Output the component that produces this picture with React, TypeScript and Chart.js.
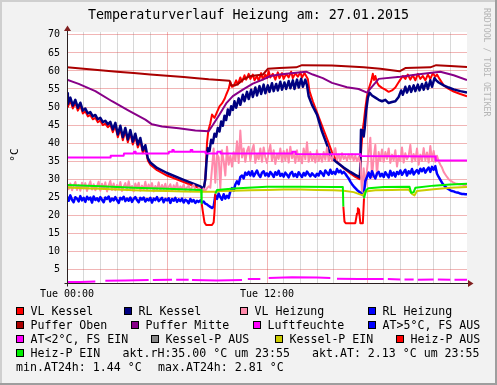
import React, { useEffect, useRef } from "react";
import { Chart, registerables } from "chart.js";

Chart.register(...registerables);

// ---------------- texts / axes ----------------
const TITLE = "Temperaturverlauf Heizung am: 27.01.2015";
const Y_UNIT = "°C";
const WATERMARK = "RRDTOOL / TOBI OETIKER";
const X_MIN = 0;
const X_MAX = 24;
const X_TICK_LABELS: Record<number, string> = { 0: "Tue 00:00", 12: "Tue 12:00" };
const Y_MIN = 1.2;
const Y_MAX = 70.8;
const Y_STEP = 5;

// ---------------- data (hour of day, °C) ----------------
type Pair = [number, number | null];

const VL_KESSEL: Pair[] = [
  [0.0, 52.8], [0.05, 50.0], [0.2, 51.8], [0.35, 49.6], [0.5, 51.2], [0.65, 49.0], [0.8, 50.4], [0.95, 48.2],
  [1.1, 48.8], [1.25, 47.4], [1.4, 47.8], [1.55, 46.6], [1.7, 47.0], [1.85, 45.8], [2.0, 46.2], [2.15, 45.0],
  [2.3, 45.4], [2.45, 44.4], [2.6, 45.1], [2.75, 43.0], [2.9, 44.8], [3.05, 41.6], [3.2, 44.0], [3.35, 40.8],
  [3.5, 43.4], [3.65, 40.2], [3.8, 42.8], [3.95, 39.6], [4.1, 41.8], [4.25, 38.8], [4.4, 40.6], [4.55, 37.2],
  [4.7, 38.6], [4.85, 35.2], [5.0, 34.0], [5.4, 32.5], [6.0, 31.0], [7.0, 29.2], [8.0, 27.4], [8.2, 26.8],
  [8.3, 30.0], [8.4, 40.0], [8.48, 43.5], [8.6, 45.5], [8.7, 47.9], [8.85, 47.0], [9.0, 48.6], [9.15, 50.2],
  [9.3, 51.0], [9.45, 52.2], [9.55, 53.4], [9.7, 55.0], [9.8, 57.0], [9.9, 55.6], [10.0, 55.8], [10.15, 57.4],
  [10.25, 56.2], [10.4, 58.2], [10.5, 57.0], [10.65, 58.8], [10.75, 57.6], [10.9, 59.2], [11.0, 57.8], [11.15, 59.0],
  [11.25, 57.4], [11.4, 58.6], [11.5, 57.2], [11.65, 59.4], [11.75, 57.6], [11.9, 59.0], [12.0, 58.0], [12.1, 60.0],
  [12.2, 58.2], [12.35, 59.2], [12.5, 57.6], [12.65, 59.6], [12.75, 58.0], [12.9, 59.4], [13.0, 57.8], [13.15, 59.2],
  [13.3, 58.2], [13.45, 59.8], [13.55, 58.0], [13.7, 59.4], [13.85, 58.4], [14.0, 59.6], [14.1, 58.2], [14.25, 59.4],
  [14.35, 58.6], [14.45, 57.8], [14.55, 54.4], [14.75, 51.6], [15.05, 47.9], [15.35, 44.2], [15.65, 40.6], [15.9, 37.5],
  [16.2, 34.8], [16.6, 33.0], [17.0, 31.6], [17.3, 30.6], [17.55, 30.0], [17.65, 38.0], [17.75, 44.0], [17.8, 45.5],
  [17.9, 49.7], [18.0, 53.0], [18.1, 55.0], [18.25, 57.1], [18.35, 59.2], [18.42, 57.5], [18.5, 58.6], [18.6, 56.8],
  [18.7, 56.0], [18.9, 55.3], [19.1, 54.8], [19.3, 54.2], [19.5, 54.6], [19.7, 55.4], [19.85, 56.5], [20.0, 57.6],
  [20.15, 58.6], [20.3, 57.8], [20.45, 59.0], [20.6, 57.6], [20.75, 58.8], [20.9, 57.4], [21.05, 59.2], [21.2, 57.8],
  [21.35, 58.6], [21.5, 57.4], [21.65, 59.0], [21.8, 57.8], [21.95, 59.4], [22.1, 58.4], [22.2, 59.0], [22.35, 57.8],
  [22.6, 56.0], [22.9, 55.0], [23.2, 54.3], [23.6, 53.6], [24.0, 53.0],
];

const RL_KESSEL: Pair[] = [
  [0.0, 53.8], [0.05, 50.8], [0.2, 52.6], [0.35, 50.4], [0.5, 52.0], [0.65, 49.8], [0.8, 51.2], [0.95, 49.0],
  [1.1, 49.6], [1.25, 48.2], [1.4, 48.6], [1.55, 47.4], [1.7, 47.8], [1.85, 46.6], [2.0, 47.0], [2.15, 45.8],
  [2.3, 46.2], [2.45, 45.2], [2.6, 45.9], [2.75, 43.8], [2.9, 45.6], [3.05, 42.4], [3.2, 44.8], [3.35, 41.6],
  [3.5, 44.2], [3.65, 41.0], [3.8, 43.6], [3.95, 40.4], [4.1, 42.6], [4.25, 39.6], [4.4, 41.4], [4.55, 38.0],
  [4.7, 39.4], [4.85, 35.8], [5.0, 34.6], [5.4, 33.1], [6.0, 31.7], [7.0, 29.8], [8.0, 28.0], [8.2, 27.3],
  [8.3, 30.0], [8.38, 35.5], [8.45, 38.6], [8.55, 37.8], [8.65, 40.9], [8.75, 40.0], [8.85, 42.6], [8.95, 41.8],
  [9.05, 44.2], [9.15, 43.2], [9.25, 46.0], [9.35, 44.8], [9.45, 47.6], [9.55, 46.4], [9.65, 49.3], [9.75, 47.8],
  [9.85, 50.2], [9.95, 49.2], [10.05, 51.6], [10.15, 49.8], [10.3, 52.4], [10.4, 50.6], [10.55, 53.4], [10.65, 51.6],
  [10.8, 54.2], [10.9, 52.2], [11.05, 54.8], [11.15, 52.8], [11.3, 55.4], [11.4, 53.2], [11.55, 55.8], [11.65, 53.6],
  [11.8, 56.2], [11.9, 53.8], [12.05, 56.0], [12.15, 54.2], [12.3, 56.6], [12.4, 54.4], [12.55, 56.4], [12.65, 54.6],
  [12.8, 57.0], [12.9, 54.8], [13.05, 56.8], [13.15, 55.0], [13.3, 57.2], [13.4, 55.2], [13.55, 57.4], [13.65, 55.0],
  [13.8, 57.6], [13.9, 55.4], [14.05, 57.8], [14.15, 55.6], [14.3, 57.6], [14.4, 56.0], [14.5, 53.0], [14.7, 50.6],
  [15.0, 47.9], [15.3, 43.2], [15.6, 39.5], [15.85, 36.0], [16.2, 34.6], [16.6, 33.2], [17.0, 32.0], [17.3, 31.2],
  [17.58, 30.5], [17.64, 43.7], [17.72, 43.5], [17.8, 41.8], [17.86, 44.0], [17.95, 49.0], [18.05, 52.5], [18.15, 54.0],
  [18.3, 53.2], [18.5, 52.6], [18.7, 52.0], [18.9, 51.6], [19.1, 52.0], [19.3, 51.1], [19.5, 51.4], [19.7, 51.6],
  [19.9, 52.8], [20.05, 54.6], [20.15, 53.4], [20.3, 55.6], [20.4, 54.0], [20.55, 55.8], [20.65, 54.2], [20.8, 56.0],
  [20.9, 54.4], [21.05, 56.2], [21.15, 54.6], [21.3, 56.4], [21.4, 54.8], [21.55, 56.8], [21.65, 55.0], [21.8, 57.4],
  [21.9, 55.6], [22.05, 58.0], [22.15, 57.4], [22.3, 56.8], [22.6, 56.0], [22.9, 55.4], [23.2, 54.9], [23.6, 54.4],
  [24.0, 54.0],
];

// 6-minute samples from 00:00 to 24:00
const SAMPLE_STEP_H = 0.1;
const VL_HEIZUNG: number[] = [
  28.5, 27.2, 28.8, 26.9, 28.1, 29.2, 27.0, 28.4, 26.8, 29.0,
  27.4, 28.9, 26.7, 28.2, 29.4, 27.1, 28.6, 26.9, 28.0, 29.3,
  26.8, 28.7, 27.3, 29.1, 26.6, 28.3, 29.5, 27.0, 28.8, 26.9,
  28.4, 27.2, 29.2, 26.7, 28.0, 28.9, 26.9, 29.4, 27.3, 28.1,
  26.6, 28.8, 27.5, 29.0, 26.8, 28.2, 27.1, 29.3, 26.9, 28.5,
  27.4, 28.9, 26.6, 28.1, 27.0, 29.1, 26.8, 28.4, 27.2, 28.7,
  26.9, 27.8, 28.6, 26.7, 28.3, 27.1, 29.0, 26.8, 28.0, 27.3,
  28.5, 26.9, 27.7, 28.2, 26.6, 27.9, 28.4, 27.0, 26.8, 27.6,
  27.1, 26.5, 27.4, 26.8, 27.5, 28.0, 27.6, 33.0, 38.5, 29.0,
  37.0, 36.0, 27.5, 38.0, 35.0, 31.0, 39.0, 34.0, 36.5, 33.5,
  37.5, 35.0, 40.5, 34.5, 43.5, 36.0, 38.5, 34.8, 37.8, 39.0,
  35.2, 38.0, 39.5, 34.5, 37.0, 35.5, 38.5, 34.8, 38.8, 36.0,
  34.5, 37.5, 39.5, 35.0, 38.0, 34.2, 37.0, 35.6, 38.5, 34.8,
  37.8, 35.2, 38.2, 34.6, 39.0, 35.8, 37.2, 34.5, 38.0, 35.0,
  36.8, 34.4, 38.5, 35.5, 40.2, 34.8, 37.5, 35.2, 36.8, 34.6,
  38.0, 35.0, 36.8, 34.8, 37.5, 35.4, 38.8, 35.0, 36.5, 35.2,
  37.0, 38.6, 35.4, 36.8, 35.0, 37.2, 35.6, 36.4, 35.2, 36.8,
  35.5, 36.9, 35.2, 36.5, 35.0, 36.2, 34.5, 26.5, 33.0, 28.0,
  32.5, 37.0, 41.5, 30.5, 36.0, 39.5, 31.0, 37.5, 35.0, 38.2,
  34.8, 37.5, 35.6, 38.5, 34.5, 36.8, 35.2, 38.0, 33.5, 36.5,
  35.0, 38.8, 34.6, 37.2, 35.5, 36.5, 39.5, 34.8, 37.0, 35.2,
  38.5, 34.0, 36.8, 35.0, 38.6, 35.2, 37.4, 34.6, 39.2, 35.0,
  37.8, 34.8, 36.5, 35.0, 34.0, 33.2, 32.0, 31.3, 30.6, 30.0,
  29.6, 29.3, 29.0, 28.8, 28.7, 28.6, 28.5, 28.5, 28.4, 28.4,
  28.5,
];

const RL_HEIZUNG: number[] = [
  25.2, 24.0, 25.5, 24.3, 23.6, 25.0, 24.6, 23.8, 25.3, 24.1,
  24.8, 23.7, 25.1, 24.4, 24.9, 23.5, 25.2, 24.2, 24.7, 23.9,
  25.0, 24.3, 23.6, 24.9, 24.5, 25.2, 23.8, 24.6, 24.1, 25.0,
  24.2, 23.4, 24.8, 24.4, 25.1, 23.9, 24.6, 24.0, 24.9, 23.7,
  24.5, 25.0, 24.2, 23.6, 24.8, 24.3, 24.9, 23.8, 24.5, 24.1,
  24.8, 23.5, 24.6, 24.2, 25.0, 23.9, 24.4, 24.8, 23.6, 24.5,
  24.1, 24.7, 23.4, 24.5, 24.0, 24.8, 23.7, 24.4, 23.9, 24.6,
  23.5, 24.3, 24.0, 23.3, 24.5, 23.8, 24.2, 23.4, 24.0, 23.7,
  24.1, 23.5, 23.8, 23.2, 23.0, 22.6, 22.3, 22.0, 22.4, 25.5,
  24.5, 26.0, 25.0, 24.3, 25.8, 24.6, 25.4, 24.8, 26.6, 27.5,
  26.8, 28.5, 29.4, 28.6, 30.6, 31.0, 30.2, 31.8, 31.2, 32.0,
  31.0, 32.2, 30.8, 31.6, 32.4, 31.2, 30.6, 31.8, 32.2, 31.0,
  31.6, 30.8, 32.0, 31.4, 30.6, 31.9, 31.2, 32.3, 30.9, 31.5,
  30.7, 31.8, 31.2, 30.5, 31.6, 32.0, 30.8, 31.4, 30.6, 31.9,
  31.2, 30.6, 31.7, 31.0, 32.1, 31.4, 30.8, 31.6, 31.1, 30.7,
  31.5, 31.0, 32.2, 31.6, 30.9, 32.4, 31.8, 31.2, 32.6, 31.5,
  32.0, 31.4, 32.8, 31.9, 32.4, 31.6, 32.0, 31.5, 30.8, 30.2,
  29.3, 28.6, 28.0, 27.5, 27.0, 26.6, 26.3, 25.8, 25.5, 29.5,
  30.6, 31.8, 30.4, 32.2, 31.0, 30.2, 31.6, 32.0, 30.8, 31.5,
  30.6, 31.9, 31.2, 30.5, 32.3, 31.0, 31.8, 30.7, 32.0, 31.4,
  32.4, 31.2, 31.9, 32.6, 31.0, 32.2, 31.6, 32.8, 31.3, 32.0,
  32.5, 31.6, 32.9, 32.2, 33.0, 31.8, 32.6, 33.2, 32.0, 33.4,
  32.6, 33.6, 31.5, 30.6, 29.8, 29.0, 28.4, 27.9, 27.5, 27.2,
  26.9, 26.7, 26.6, 26.4, 26.3, 26.2, 26.0, 25.9, 25.9, 25.8,
  25.8,
];

const PUFFER_OBEN: Pair[] = [
  [0, 61.0], [1, 60.6], [2, 60.2], [3, 59.8], [4, 59.4], [5, 59.0], [6, 58.7], [7, 58.3], [7.8, 58.0],
  [8.5, 57.7], [9.75, 57.3], [9.85, 56.0], [10.1, 56.0], [10.35, 56.7], [10.55, 57.6], [10.95, 58.5],
  [11.4, 58.8], [11.75, 59.0], [12.05, 60.6], [12.75, 60.8], [13.75, 61.0], [14.1, 61.6], [15.9, 61.5],
  [17.0, 61.2], [17.8, 61.0], [18.8, 60.6], [19.95, 59.9], [20.3, 60.8], [21.8, 61.0], [22.15, 61.6],
  [23.0, 61.4], [24.0, 61.1],
];

const PUFFER_MITTE: Pair[] = [
  [0, 57.6], [0.7, 56.4], [1.7, 54.4], [2.7, 51.6], [3.7, 49.0], [4.7, 46.5], [5.1, 45.2], [5.7, 44.6],
  [6.7, 44.1], [7.7, 43.5], [8.5, 43.3], [8.75, 45.0], [9.15, 47.9], [9.55, 51.0], [9.95, 53.0], [10.55, 54.8],
  [11.15, 56.5], [11.75, 57.6], [12.2, 58.6], [12.75, 59.0], [13.75, 59.5], [14.35, 59.8], [14.75, 59.0],
  [15.35, 58.0], [15.9, 56.7], [16.8, 55.5], [17.5, 55.0], [18.0, 54.0], [18.7, 57.8], [20.0, 58.4],
  [21.0, 59.0], [22.4, 59.8], [23.2, 58.8], [24, 57.5],
];

const LUFTFEUCHTE: Pair[] = [
  [0, 36.0], [2.6, 36.0], [2.62, 36.5], [3.4, 36.5], [3.42, 37.1], [4.0, 37.1], [4.02, 37.6], [4.1, 37.6],
  [4.12, 37.1], [6.1, 37.1], [6.12, 37.6], [6.3, 37.6], [6.32, 38.1], [6.4, 38.1], [6.42, 37.6], [7.4, 37.6],
  [7.42, 38.1], [7.5, 38.1], [7.52, 37.6], [8.3, 37.6], [8.32, 37.1], [9.0, 37.1], [9.02, 37.6], [9.2, 37.6],
  [9.22, 37.1], [13.5, 37.1], [13.52, 37.6], [13.7, 37.6], [13.72, 37.0], [17.6, 36.9], [17.62, 36.4],
  [22.1, 36.3], [22.12, 35.2], [24, 35.2],
];

const AT_FS_AUS: Pair[] = [];

const AT_FS_EIN: Pair[] = [
  [0, 1.5], [0.8, 1.5], [1.7, 1.6], [1.72, null], [2.25, null], [2.3, 1.8], [3.5, 1.9], [4.9, 2.0],
  [4.92, null], [5.1, null], [5.15, 2.0], [6.3, 2.1], [6.32, null], [6.5, null], [6.55, 2.1], [7.3, 2.1],
  [7.32, null], [7.45, null], [7.5, 2.0], [9.0, 1.9], [10.5, 2.0], [10.52, null], [10.8, null], [10.85, 2.3],
  [11.6, 2.3], [11.62, null], [12.05, null], [12.1, 2.6], [13.5, 2.8], [15.0, 2.7], [15.8, 2.6], [15.82, null],
  [16.15, null], [16.2, 2.4], [17.5, 2.3], [19.0, 2.3], [19.02, null], [19.2, null], [19.25, 2.3], [20.0, 2.2],
  [20.02, null], [20.2, null], [20.25, 2.2], [20.8, 2.2], [20.82, null], [21.0, null], [21.05, 2.1], [22.0, 2.2],
  [22.02, null], [22.2, null], [22.25, 2.2], [23.0, 2.1], [23.02, null], [23.2, null], [23.25, 2.1], [24, 2.1],
];

const KESSEL_P_AUS: Pair[] = [];

const KESSEL_P_EIN: Pair[] = [
  [0, 27.7], [1, 27.5], [2, 27.3], [3, 27.1], [4, 26.9], [5, 26.8], [6, 26.7], [7, 26.6], [8, 26.5],
  [9, 26.5], [9.2, 26.7], [10, 26.8], [11, 26.9], [12, 27.0], [13, 27.1], [14, 27.1], [15, 27.0], [16, 26.9],
  [16.6, 26.8], [17.2, 26.4], [17.75, 25.5], [17.9, 26.6], [18.5, 26.9], [19.5, 27.0], [20.5, 27.1],
  [20.7, 25.9], [20.85, 25.5], [21.0, 26.7], [22, 27.2], [23, 27.6], [24, 27.8],
];

const HEIZ_P_AUS: Pair[] = [
  [8.08, 23.3], [8.15, 21.0], [8.25, 18.0], [8.35, 17.3], [8.7, 17.3], [8.8, 18.0], [8.85, 21.0], [8.9, 26.0],
  [8.95, null], [16.55, null], [16.58, 22.4], [16.65, 18.2], [16.72, 17.8], [17.3, 17.8], [17.4, 20.5],
  [17.45, 21.9], [17.52, 21.6], [17.6, 17.8], [17.75, 17.8], [17.82, 24.7],
];

const HEIZ_P_EIN: Pair[] = [
  [0, 28.4], [2, 28.0], [4, 27.6], [6, 27.3], [8.05, 27.0], [8.08, 23.3], [8.1, null], [8.88, null],
  [8.9, 26.0], [9.0, 27.0], [10, 27.4], [12, 27.9], [14, 27.9], [16, 27.8], [16.55, 27.8], [16.58, 22.4],
  [16.6, null], [17.8, null], [17.82, 24.7], [17.95, 27.0], [18.1, 27.5], [19, 27.8], [20.55, 27.9],
  [20.65, 26.2], [20.8, 26.4], [20.9, 27.6], [22, 28.2], [23, 28.5], [24, 28.7],
];

// legend free texts
const AKT_RH = "akt.rH:35.00 °C um 23:55";
const AKT_AT = "akt.AT: 2.13 °C um 23:55";
const MIN_AT = "min.AT24h: 1.44 °C";
const MAX_AT = "max.AT24h: 2.81 °C";

// ---------------- styles ----------------
const W = 497;
const H = 385;
const MONO = "'DejaVu Sans Mono', 'Liberation Mono', monospace";
const C = {
  vlKessel: "#FF0000",
  rlKessel: "#000080",
  vlHeizung: "#FF8AAB",
  rlHeizung: "#0000FF",
  pufferOben: "#AA0000",
  pufferMitte: "#880088",
  luft: "#FF00FF",
  atAus: "#0000FF",
  atEin: "#FF00FF",
  kpAus: "#888888",
  kpEin: "#CCCC00",
  hpAus: "#FF0000",
  hpEin: "#00F000",
};
const GRID = "rgba(143,143,143,0.35)";
const MGRID = "rgba(222,79,79,0.42)";
const AXIS = "#2a2020";
const ARROW = "#801F1F";

const toXY = (pairs: Pair[]) => pairs.map(([x, y]) => ({ x, y }));
const stepXY = (vals: number[]) => vals.map((y, i) => ({ x: Math.round(i * SAMPLE_STEP_H * 100) / 100, y }));

const SERIES = [
  { label: "VL Kessel", color: C.vlKessel, width: 2, data: toXY(VL_KESSEL) },
  { label: "RL Kessel", color: C.rlKessel, width: 2.5, data: toXY(RL_KESSEL) },
  { label: "VL Heizung", color: C.vlHeizung, width: 2, data: stepXY(VL_HEIZUNG) },
  { label: "RL Heizung", color: C.rlHeizung, width: 2.5, data: stepXY(RL_HEIZUNG) },
  { label: "Puffer Oben", color: C.pufferOben, width: 2, data: toXY(PUFFER_OBEN) },
  { label: "Puffer Mitte", color: C.pufferMitte, width: 2, data: toXY(PUFFER_MITTE) },
  { label: "Luftfeuchte", color: C.luft, width: 2, data: toXY(LUFTFEUCHTE) },
  { label: "AT>5°C, FS AUS", color: C.atAus, width: 2, data: toXY(AT_FS_AUS) },
  { label: "AT<2°C, FS EIN", color: C.atEin, width: 2, data: toXY(AT_FS_EIN) },
  { label: "Kessel-P AUS", color: C.kpAus, width: 2, data: toXY(KESSEL_P_AUS) },
  { label: "Kessel-P EIN", color: C.kpEin, width: 2, data: toXY(KESSEL_P_EIN) },
  { label: "Heiz-P AUS", color: C.hpAus, width: 2, data: toXY(HEIZ_P_AUS) },
  { label: "Heiz-P EIN", color: C.hpEin, width: 2, data: toXY(HEIZ_P_EIN) },
];

// legend layout (RRDtool style)
const ROW_BASE = [315, 329, 343, 357, 371];
const LEGEND_BOXES = [
  { label: "VL Kessel", color: C.vlKessel, x: 16, row: 0 },
  { label: "RL Kessel", color: C.rlKessel, x: 124, row: 0 },
  { label: "VL Heizung", color: C.vlHeizung, x: 240, row: 0 },
  { label: "RL Heizung", color: C.rlHeizung, x: 368, row: 0 },
  { label: "Puffer Oben", color: C.pufferOben, x: 16, row: 1 },
  { label: "Puffer Mitte", color: C.pufferMitte, x: 131, row: 1 },
  { label: "Luftfeuchte", color: C.luft, x: 253, row: 1 },
  { label: "AT>5°C, FS AUS", color: C.atAus, x: 368, row: 1 },
  { label: "AT<2°C, FS EIN", color: C.atEin, x: 16, row: 2 },
  { label: "Kessel-P AUS", color: C.kpAus, x: 151, row: 2 },
  { label: "Kessel-P EIN", color: C.kpEin, x: 275, row: 2 },
  { label: "Heiz-P AUS", color: C.hpAus, x: 396, row: 2 },
  { label: "Heiz-P EIN", color: C.hpEin, x: 16, row: 3 },
];
const LEGEND_TEXTS = [
  { text: AKT_RH, x: 122.5, row: 3 },
  { text: AKT_AT, x: 312, row: 3 },
  { text: MIN_AT, x: 16, row: 4 },
  { text: MAX_AT, x: 158, row: 4 },
];

const rrdFrame = {
  id: "rrdFrame",
  beforeDraw(chart: any) {
    const { ctx, chartArea: a } = chart;
    ctx.save();
    ctx.fillStyle = "#F2F2F2";
    ctx.fillRect(0, 0, W, H);
    ctx.fillStyle = "#CFCFCF";
    ctx.fillRect(0, 0, W, 2);
    ctx.fillRect(0, 0, 2, H);
    ctx.fillStyle = "#9E9E9E";
    ctx.fillRect(0, H - 2, W, 2);
    ctx.fillRect(W - 2, 0, 2, H);
    ctx.fillStyle = "#FFFFFF";
    ctx.fillRect(a.left, a.top, a.right - a.left, a.bottom - a.top);
    ctx.restore();
  },
  afterDraw(chart: any) {
    const { ctx, chartArea: a } = chart;
    const ax = Math.round(a.left) + 0.5;
    const ay = Math.round(a.bottom) + 0.5;
    ctx.save();
    ctx.strokeStyle = AXIS;
    ctx.lineWidth = 1;
    ctx.beginPath();
    ctx.moveTo(ax, ay + 3);
    ctx.lineTo(ax, a.top - 2);
    ctx.moveTo(ax - 3, ay);
    ctx.lineTo(a.right + 2, ay);
    ctx.stroke();
    ctx.fillStyle = ARROW;
    ctx.beginPath();
    ctx.moveTo(ax - 3.5, a.top - 1);
    ctx.lineTo(ax + 3.5, a.top - 1);
    ctx.lineTo(ax, a.top - 6.5);
    ctx.closePath();
    ctx.fill();
    ctx.beginPath();
    ctx.moveTo(a.right + 1, ay - 3.5);
    ctx.lineTo(a.right + 1, ay + 3.5);
    ctx.lineTo(a.right + 6.5, ay);
    ctx.closePath();
    ctx.fill();
    ctx.restore();
  },
};

export default function App() {
  const ref = useRef<HTMLCanvasElement | null>(null);

  useEffect(() => {
    document.body.style.margin = "0";
    const canvas = ref.current;
    if (!canvas) return;
    const n = SERIES.length;
    const chart = new Chart(canvas, {
      type: "line",
      data: {
        datasets: SERIES.map((s, i) => ({
          label: s.label,
          data: s.data,
          borderColor: s.color,
          backgroundColor: s.color,
          borderWidth: s.width,
          pointRadius: 0,
          tension: 0,
          spanGaps: false,
          fill: false,
          order: n - i,
          borderJoinStyle: "round",
          yAxisID: "y",
        })),
      },
      options: {
        responsive: false,
        animation: false,
        devicePixelRatio: 1,
        layout: { padding: 0 },
        plugins: {
          legend: { display: false },
          tooltip: { enabled: false },
          title: {
            display: true,
            text: TITLE,
            color: "#000",
            font: { family: MONO, size: 13.33, weight: "normal" },
            padding: { top: 8, bottom: 8 },
          },
        },
        scales: {
          x: {
            type: "linear",
            min: X_MIN,
            max: X_MAX,
            afterFit: (s: any) => {
              s.height = 102;
            },
            border: { display: false },
            grid: {
              drawTicks: false,
              lineWidth: 1,
              color: (c: any) => {
                const v = c.tick ? c.tick.value : undefined;
                if (v === undefined || v === X_MIN || v === X_MAX) return "rgba(0,0,0,0)";
                return v % 6 === 0 ? MGRID : GRID;
              },
            },
            ticks: {
              stepSize: 1,
              autoSkip: false,
              maxRotation: 0,
              minRotation: 0,
              padding: 5,
              color: "#000",
              font: { family: MONO, size: 10 },
              callback: (v: any) => X_TICK_LABELS[v as number] ?? "",
            },
          },
          y: {
            type: "linear",
            position: "left",
            min: Y_MIN,
            max: Y_MAX,
            afterFit: (s: any) => {
              s.width = 67;
            },
            border: { display: false },
            grid: { drawTicks: false, lineWidth: 1, color: MGRID },
            ticks: {
              stepSize: Y_STEP,
              includeBounds: false,
              padding: 7,
              color: "#000",
              font: { family: MONO, size: 10 },
              callback: (v: any) => String(v),
            },
          },
          yRightMargin: {
            type: "linear",
            position: "right",
            min: Y_MIN,
            max: Y_MAX,
            afterFit: (s: any) => {
              s.width = 30;
            },
            border: { display: false },
            grid: { display: false, drawTicks: false },
            ticks: { display: false },
          },
        },
      } as any,
      plugins: [rrdFrame],
    });
    return () => chart.destroy();
  }, []);

  return (
    <div style={{ position: "relative", width: W, height: H }}>
      <canvas ref={ref} width={W} height={H} style={{ display: "block", width: W, height: H }} />
      <svg
        width={W}
        height={H}
        style={{ position: "absolute", left: 0, top: 0, pointerEvents: "none" }}
        fontFamily={MONO}
      >
        <text
          x={17.5}
          y={155}
          fontSize={11}
          textAnchor="middle"
          fill="#000"
          transform="rotate(-90 17.5 155)"
        >
          {Y_UNIT}
        </text>
        <text x={483.5} y={8} fontSize={8.2} fill="#B5B5B5" transform="rotate(90 483.5 8)">
          {WATERMARK}
        </text>
        {LEGEND_BOXES.map((b) => (
          <g key={b.label}>
            <rect
              x={b.x + 0.5}
              y={ROW_BASE[b.row] - 7.5}
              width={7}
              height={7}
              fill={b.color}
              stroke="#000"
              strokeWidth={1}
            />
            <text x={b.x + 14.5} y={ROW_BASE[b.row]} fontSize={11.6} fill="#000" xmlSpace="preserve">
              {b.label}
            </text>
          </g>
        ))}
        {LEGEND_TEXTS.map((t) => (
          <text key={t.text} x={t.x} y={ROW_BASE[t.row]} fontSize={11.6} fill="#000" xmlSpace="preserve">
            {t.text}
          </text>
        ))}
      </svg>
    </div>
  );
}
